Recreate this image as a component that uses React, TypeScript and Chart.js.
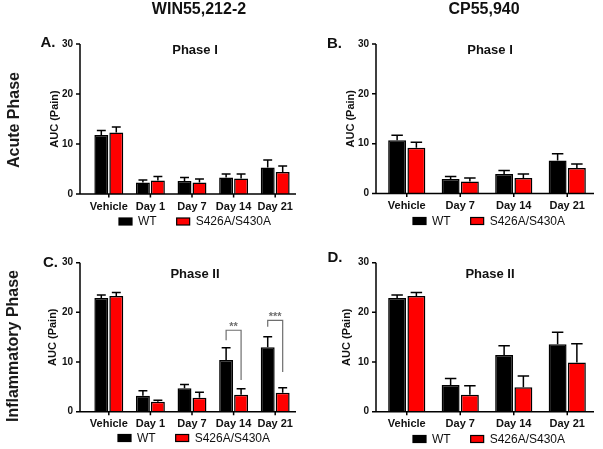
import React, { useEffect, useRef } from 'react';
import { Chart, registerables } from 'chart.js';

Chart.register(...registerables);

const FONT = '"Liberation Sans", Arial, Helvetica, sans-serif';

// ---- categories & series ----
const winCategories = ['Vehicle', 'Day 1', 'Day 7', 'Day 14', 'Day 21'];
const cpCategories = ['Vehicle', 'Day 7', 'Day 14', 'Day 21'];
const seriesNames = ['WT', 'S426A/S430A'];
const yTickStep = 10;
const yMax = 30;

// A. WIN55,212-2 – Phase I
const winPhase1Wt = [11.8, 2.3, 2.6, 3.3, 5.3];
const winPhase1WtErr = [0.9, 0.5, 0.7, 0.7, 1.5];
const winPhase1Mut = [12.3, 2.7, 2.3, 3.1, 4.4];
const winPhase1MutErr = [1.1, 0.8, 0.7, 0.9, 1.2];

// B. CP55,940 – Phase I
const cpPhase1Wt = [10.7, 2.9, 3.9, 6.6];
const cpPhase1WtErr = [1.0, 0.5, 0.7, 1.4];
const cpPhase1Mut = [9.2, 2.4, 3.1, 5.1];
const cpPhase1MutErr = [1.1, 0.7, 0.8, 0.8];

// C. WIN55,212-2 – Phase II
const winPhase2Wt = [22.9, 3.2, 4.7, 10.4, 13.0];
const winPhase2WtErr = [0.6, 1.0, 0.8, 2.5, 2.1];
const winPhase2Mut = [23.3, 2.0, 2.8, 3.4, 3.8];
const winPhase2MutErr = [0.7, 0.3, 1.1, 1.2, 1.0];

// D. CP55,940 – Phase II
const cpPhase2Wt = [22.9, 5.4, 11.4, 13.6];
const cpPhase2WtErr = [0.6, 1.3, 1.9, 2.4];
const cpPhase2Mut = [23.3, 3.4, 4.9, 9.9];
const cpPhase2MutErr = [0.7, 1.8, 2.3, 3.8];

// significance brackets (panel C)
const sigCategories = ['Day 14', 'Day 21'];
const sigLabels = ['**', '***'];
const sigTop = [16.4, 18.4];
const sigLeftEnd = [14.4, 17.1];
const sigRightEnd = [6.4, 8.0];

type Cfg = {
  left: number; top: number; width: number; height: number;
  categories: string[];
  wt: number[]; wtErr: number[]; mut: number[]; mutErr: number[];
  yWidth: number; padRight: number; padTop: number; xHeight: number;
  axisGap: number; yTickPad: number; yTitleX: number;
  letter: string; letterX: number; letterY: number;
  title: string; titleDy: number; titleDx: number;
  legendDx: number; legendY: number;
  sig?: boolean;
};

const panels: Cfg[] = [
  {
    left: 0, top: 0, width: 300, height: 228, categories: winCategories,
    wt: winPhase1Wt, wtErr: winPhase1WtErr, mut: winPhase1Mut, mutErr: winPhase1MutErr,
    yWidth: 88, padRight: 4, padTop: 44, xHeight: 34, axisGap: 8, yTickPad: 15, yTitleX: 55,
    letter: 'A.', letterX: 48, letterY: 43, title: 'Phase I', titleDy: 6, titleDx: 3,
    legendDx: 39, legendY: 221.5,
  },
  {
    left: 300, top: 0, width: 303, height: 228, categories: cpCategories,
    wt: cpPhase1Wt, wtErr: cpPhase1WtErr, mut: cpPhase1Mut, mutErr: cpPhase1MutErr,
    yWidth: 80, padRight: 9, padTop: 44, xHeight: 34.5, axisGap: 4, yTickPad: 11, yTitleX: 51,
    letter: 'B.', letterX: 34.5, letterY: 44, title: 'Phase I', titleDy: 6, titleDx: 3,
    legendDx: 37, legendY: 221,
  },
  {
    left: 0, top: 228, width: 300, height: 221, categories: winCategories,
    wt: winPhase2Wt, wtErr: winPhase2WtErr, mut: winPhase2Mut, mutErr: winPhase2MutErr,
    yWidth: 88, padRight: 4, padTop: 34.7, xHeight: 37.3, axisGap: 8, yTickPad: 15, yTitleX: 53,
    letter: 'C.', letterX: 50.5, letterY: 34.5, title: 'Phase II', titleDy: 12, titleDx: 3,
    legendDx: 38, legendY: 210, sig: true,
  },
  {
    left: 300, top: 228, width: 303, height: 221, categories: cpCategories,
    wt: cpPhase2Wt, wtErr: cpPhase2WtErr, mut: cpPhase2Mut, mutErr: cpPhase2MutErr,
    yWidth: 80, padRight: 9, padTop: 34.7, xHeight: 37.3, axisGap: 4, yTickPad: 11, yTitleX: 47,
    letter: 'D.', letterX: 35, letterY: 30, title: 'Phase II', titleDy: 12, titleDx: 3,
    legendDx: 37, legendY: 211,
  },
];

function decorPlugin(cfg: Cfg) {
  return {
    id: 'decor',
    afterDatasetsDraw(chart: any) {
      const ctx = chart.ctx;
      const ys = chart.scales.y;
      ctx.save();
      ctx.strokeStyle = '#000';
      ctx.lineWidth = 1.5;
      [[cfg.wt, cfg.wtErr], [cfg.mut, cfg.mutErr]].forEach(([vals, errs], di) => {
        const meta = chart.getDatasetMeta(di);
        meta.data.forEach((el: any, j: number) => {
          const x = el.x;
          const y0 = el.y;
          const y1 = ys.getPixelForValue(vals[j] + errs[j]);
          const half = el.width * 0.32;
          ctx.beginPath();
          ctx.moveTo(x, y0);
          ctx.lineTo(x, y1);
          ctx.moveTo(x - half, y1);
          ctx.lineTo(x + half, y1);
          ctx.stroke();
        });
      });
      ctx.restore();
    },
    afterDraw(chart: any) {
      const ctx = chart.ctx;
      const area = chart.chartArea;
      const ys = chart.scales.y;
      const xs = chart.scales.x;
      const axisX = area.left - cfg.axisGap;
      ctx.save();
      // axes
      ctx.strokeStyle = '#000';
      ctx.lineWidth = 1.5;
      ctx.beginPath();
      ctx.moveTo(axisX, area.top);
      ctx.lineTo(axisX, area.bottom);
      ctx.lineTo(area.right, area.bottom);
      ys.ticks.forEach((t: any) => {
        const y = ys.getPixelForValue(t.value);
        ctx.moveTo(axisX - 4, y);
        ctx.lineTo(axisX, y);
      });
      cfg.categories.forEach((_c, i) => {
        const x = xs.getPixelForValue(i);
        ctx.moveTo(x, area.bottom);
        ctx.lineTo(x, area.bottom + 3.5);
      });
      ctx.stroke();

      // panel title
      ctx.fillStyle = '#111';
      ctx.font = `bold 13px ${FONT}`;
      ctx.textAlign = 'center';
      ctx.textBaseline = 'middle';
      ctx.fillText(cfg.title, (area.left + area.right) / 2 + cfg.titleDx, area.top + cfg.titleDy);

      // panel letter
      ctx.font = `bold 15px ${FONT}`;
      ctx.fillText(cfg.letter, cfg.letterX, cfg.letterY);

      // y title
      ctx.save();
      ctx.translate(cfg.yTitleX, (area.top + area.bottom) / 2);
      ctx.rotate(-Math.PI / 2);
      ctx.font = `bold 11px ${FONT}`;
      ctx.fillText('AUC (Pain)', 0, 0);
      ctx.restore();

      // legend
      const colors = ['#000', '#ff0000'];
      let lx = axisX + cfg.legendDx;
      ctx.font = `12px ${FONT}`;
      ctx.textAlign = 'left';
      ctx.textBaseline = 'middle';
      seriesNames.forEach((name, i) => {
        ctx.fillStyle = colors[i];
        ctx.fillRect(lx, cfg.legendY - 3.5, 13, 7);
        ctx.strokeStyle = '#000';
        ctx.lineWidth = 1.2;
        ctx.strokeRect(lx, cfg.legendY - 3.5, 13, 7);
        ctx.fillStyle = '#111';
        ctx.fillText(name, lx + 19, cfg.legendY + 0.5);
        lx += 19 + ctx.measureText(name).width + 20;
      });

      // significance brackets
      if (cfg.sig) {
        const m0 = chart.getDatasetMeta(0);
        const m1 = chart.getDatasetMeta(1);
        ctx.strokeStyle = '#6e6e6e';
        ctx.fillStyle = '#6e6e6e';
        ctx.lineWidth = 1.2;
        sigCategories.forEach((cat, k) => {
          const idx = cfg.categories.indexOf(cat);
          const xL = m0.data[idx].x;
          const xR = m1.data[idx].x;
          const yT = ys.getPixelForValue(sigTop[k]);
          ctx.beginPath();
          ctx.moveTo(xL, ys.getPixelForValue(sigLeftEnd[k]));
          ctx.lineTo(xL, yT);
          ctx.lineTo(xR, yT);
          ctx.lineTo(xR, ys.getPixelForValue(sigRightEnd[k]));
          ctx.stroke();
          ctx.font = `bold 11px ${FONT}`;
          ctx.textAlign = 'center';
          ctx.textBaseline = 'middle';
          ctx.fillText(sigLabels[k], (xL + xR) / 2, yT - 3);
        });
      }
      ctx.restore();
    },
  };
}

function Panel({ cfg }: { cfg: Cfg }) {
  const ref = useRef<HTMLCanvasElement>(null);
  useEffect(() => {
    if (!ref.current) return;
    const common = { borderColor: '#000', borderWidth: 1.5, categoryPercentage: 0.72, barPercentage: 0.93 };
    const chart = new Chart(ref.current, {
      type: 'bar',
      data: {
        labels: cfg.categories,
        datasets: [
          { label: seriesNames[0], data: cfg.wt, backgroundColor: '#000', ...common },
          { label: seriesNames[1], data: cfg.mut, backgroundColor: '#ff0000', ...common },
        ],
      },
      options: {
        animation: false,
        responsive: false,
        maintainAspectRatio: false,
        layout: { padding: { left: 0, right: cfg.padRight, top: cfg.padTop, bottom: 0 } },
        plugins: { legend: { display: false }, tooltip: { enabled: false }, title: { display: false } },
        scales: {
          x: {
            grid: { display: false, drawTicks: false },
            border: { display: false },
            ticks: { font: { family: FONT, size: 11, weight: 'bold' }, color: '#111', padding: 6, maxRotation: 0, autoSkip: false },
            afterFit: (s: any) => { s.height = cfg.xHeight; },
          },
          y: {
            min: 0,
            max: yMax,
            grid: { display: false, drawTicks: false },
            border: { display: false },
            ticks: { stepSize: yTickStep, font: { family: FONT, size: 10, weight: 'bold' }, color: '#111', padding: cfg.yTickPad },
            afterFit: (s: any) => { s.width = cfg.yWidth; },
          },
        },
      } as any,
      plugins: [decorPlugin(cfg)],
    });
    return () => chart.destroy();
  }, []);
  return (
    <canvas
      ref={ref}
      width={cfg.width}
      height={cfg.height}
      style={{ position: 'absolute', left: cfg.left, top: cfg.top, width: cfg.width, height: cfg.height }}
    />
  );
}

const rotStyle = (x: number, y: number): React.CSSProperties => ({
  position: 'absolute', left: x, top: y, transform: 'translate(-50%, -50%) rotate(-90deg)',
  whiteSpace: 'nowrap', fontFamily: FONT, fontSize: 16, fontWeight: 'bold', color: '#1a1a1a', lineHeight: 1,
});
const headStyle = (x: number, y: number): React.CSSProperties => ({
  position: 'absolute', left: x, top: y, transform: 'translate(-50%, -50%)',
  whiteSpace: 'nowrap', fontFamily: FONT, fontSize: 16, fontWeight: 'bold', color: '#111', lineHeight: 1,
});

export default function App() {
  return (
    <div style={{ position: 'absolute', left: 0, top: 0, width: 603, height: 449, background: '#fff', overflow: 'hidden' }}>
      {panels.map((p, i) => <Panel key={i} cfg={p} />)}
      <div style={headStyle(199, 9)}>WIN55,212-2</div>
      <div style={headStyle(484, 9)}>CP55,940</div>
      <div style={rotStyle(14, 120)}>Acute Phase</div>
      <div style={rotStyle(12.5, 346)}>Inflammatory Phase</div>
    </div>
  );
}
